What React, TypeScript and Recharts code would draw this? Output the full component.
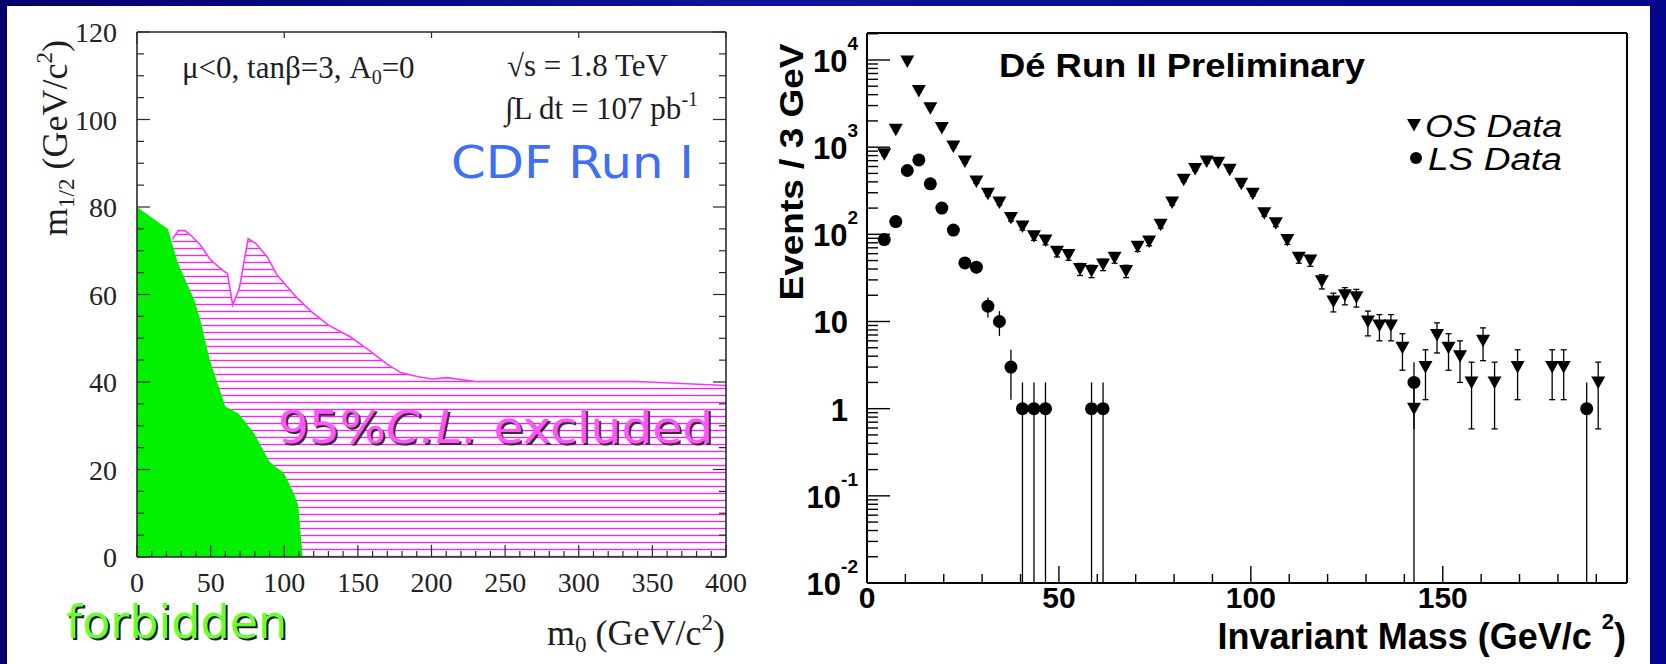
import React from 'react';
import {
  ComposedChart,
  Area,
  XAxis,
  YAxis,
  ScatterChart,
  Scatter,
  ErrorBar,
} from 'recharts';

// ─── Fonts / colours ──────────────────────────────────────
const SERIF = '"Liberation Serif", "Times New Roman", serif';
const SANS = '"Liberation Sans", Arial, Helvetica, sans-serif';
const VERDANA = '"DejaVu Sans", Verdana, sans-serif';
const FRAME_L = '#2a2a2a';
const INK = '#000';

// ─── Left panel: CDF Run I, (m0, m1/2) plane ──────────────
const FORBIDDEN_M0 = [0, 21, 27.5, 39, 43, 49.5, 60, 69, 79.5, 90, 100, 106.5, 109.5, 112.5];
const FORBIDDEN_M12 = [80, 75, 67.5, 58.7, 54.2, 45, 34.4, 32.8, 28.3, 21.8, 19.1, 14.6, 11.9, 0];

const LIMIT_M0 = [
  24, 28, 32.5, 36.5, 43, 50, 56.5, 61.5, 65, 69.5, 75.5, 80.5, 88.5, 95, 109,
  118.5, 130, 144.5, 157.5, 170.5, 179.5, 191, 200.5, 210.5, 217, 230, 339, 400,
];
const LIMIT_M12 = [
  72.6, 74.6, 74.6, 73.6, 71.3, 67.9, 66, 64.7, 57.6, 61.4, 72.8, 71.7, 68.6, 64.5, 59.1,
  56.1, 53, 50.4, 47.3, 43.9, 42.1, 41.2, 40.7, 41, 40.7, 40.1, 40.1, 39.2,
];

const M0_LABELS = [0, 50, 100, 150, 200, 250, 300, 350, 400];
const M12_LABELS = [0, 20, 40, 60, 80, 100, 120];

// ─── Right panel: DØ Run II invariant mass ────────────────
const OS_MASS = [
  4.5, 7.5, 10.5, 13.5, 16.5, 19.5, 22.5, 25.5, 28.5, 31.5, 34.5, 37.5, 40.5, 43.5, 46.5,
  49.5, 52.5, 55.5, 58.5, 61.5, 64.5, 67.5, 70.5, 73.5, 76.5, 79.5, 82.5, 85.5, 88.5, 91.5,
  94.5, 97.5, 100.5, 103.5, 106.5, 109.5, 112.5, 115.5, 118.5, 121.5, 124.5, 127.5, 130.5,
  133.5, 136.5, 139.5, 142.5, 145.5, 148.5, 151.5, 154.5, 157.5, 160.5, 163.5, 169.5,
  178.5, 181.5, 190.5,
];
const OS_EVENTS = [
  830, 1580, 9600, 4400, 2800, 1660, 1015, 684, 404, 292, 232, 154, 123, 95, 85,
  63, 58, 40, 38, 45, 54, 38, 72, 83, 129, 232, 422, 560, 684, 663,
  550, 380, 292, 175, 134, 86, 54, 50, 29, 17, 20, 19, 10,
  9, 9, 5, 1, 3, 7, 5, 4, 2, 6, 2, 3,
  3, 3, 2,
];

const LS_MASS = [
  4.5, 7.5, 10.5, 13.5, 16.5, 19.5, 22.5, 25.5, 28.5, 31.5, 34.5, 37.5, 40.5, 43.5, 46.5,
  58.5, 61.5, 142.5, 187.5,
];
const LS_EVENTS = [87, 140, 540, 713, 380, 200, 112, 47, 42, 15, 10, 3, 1, 1, 1, 1, 1, 2, 1];

const MASS_LABELS = [0, 50, 100, 150];
const DECADE_LABELS: Record<number, [string, string]> = {
  [-2]: ['10', '-2'],
  [-1]: ['10', '-1'],
  0: ['1', ''],
  1: ['10', ''],
  2: ['10', '2'],
  3: ['10', '3'],
  4: ['10', '4'],
};

const Y_MIN = 0.01;
const Y_MAX = 20400;
const MASS_MAX = 198;

// ─── Helpers ──────────────────────────────────────────────
function range(start: number, stop: number, step: number): number[] {
  const n = Math.round((stop - start) / step) + 1;
  return Array.from({ length: n }, (_, i) => start + i * step);
}

const M0_TICKS = range(0, 400, 10);
const M12_TICKS = range(0, 120, 5);
const MASS_TICKS = range(0, 190, 10);
const LOG_TICKS: number[] = [];
for (let e = -2; e <= 4; e++) {
  for (let m = 1; m <= 9; m++) {
    const v = Number((m * Math.pow(10, e)).toPrecision(6));
    if (v <= Y_MAX) LOG_TICKS.push(v);
  }
}

function buildLeftRows() {
  const rows = new Map<number, { m0: number; forb: number | null; excl: number | null }>();
  FORBIDDEN_M0.forEach((m0, i) => {
    rows.set(m0, { m0, forb: FORBIDDEN_M12[i], excl: null });
  });
  LIMIT_M0.forEach((m0, i) => {
    const r = rows.get(m0);
    if (r) r.excl = LIMIT_M12[i];
    else rows.set(m0, { m0, forb: null, excl: LIMIT_M12[i] });
  });
  return Array.from(rows.values()).sort((a, b) => a.m0 - b.m0);
}

// Poisson errors, lower edge clipped at the bottom of the log axis
function withErrors(mass: number[], events: number[]) {
  return mass.map((x, i) => {
    const y = events[i];
    const s = Math.sqrt(y);
    const low = Math.max(y - s, Y_MIN);
    return { x, y, err: [y - low, s] };
  });
}

const LEFT_ROWS = buildLeftRows();
const OS_POINTS = withErrors(OS_MASS, OS_EVENTS);
const LS_POINTS = withErrors(LS_MASS, LS_EVENTS);

// ─── Left panel ticks (ROOT style, inward) ────────────────
const LeftBottomTick = (p: any) => {
  const { x, y, payload } = p;
  const major = M0_LABELS.includes(payload.value);
  return (
    <g>
      <line x1={x} x2={x} y1={y} y2={y - (major ? 12 : 6)} stroke={FRAME_L} strokeWidth={1.2} />
      {major && (
        <text x={x} y={y + 35} textAnchor="middle" fontFamily={SERIF} fontSize={28} fill="#222">
          {payload.value}
        </text>
      )}
    </g>
  );
};

const LeftTopTick = (p: any) => {
  const { x, y, payload } = p;
  const major = M0_LABELS.includes(payload.value);
  return <line x1={x} x2={x} y1={y} y2={y + (major ? 12 : 6)} stroke={FRAME_L} strokeWidth={1.2} />;
};

const LeftYTick = (p: any) => {
  const { x, y, payload } = p;
  const major = M12_LABELS.includes(payload.value);
  return (
    <g>
      <line x1={x} x2={x + (major ? 13 : 7)} y1={y} y2={y} stroke={FRAME_L} strokeWidth={1.2} />
      {major && (
        <text x={x - 20} y={y + 10} textAnchor="end" fontFamily={SERIF} fontSize={28} fill="#222">
          {payload.value}
        </text>
      )}
    </g>
  );
};

const LeftRightTick = (p: any) => {
  const { x, y, payload } = p;
  const major = M12_LABELS.includes(payload.value);
  return <line x1={x} x2={x - (major ? 13 : 7)} y1={y} y2={y} stroke={FRAME_L} strokeWidth={1.2} />;
};

// ─── Right panel ticks ────────────────────────────────────
const MassTick = (p: any) => {
  const { x, y, payload } = p;
  const major = MASS_LABELS.includes(payload.value);
  return (
    <g>
      <line x1={x} x2={x} y1={y} y2={y - (major ? 17 : 9)} stroke={INK} strokeWidth={1.4} />
      {major && (
        <text x={x} y={y + 25} textAnchor="middle" fontFamily={SANS} fontWeight={700} fontSize={30} fill={INK}>
          {payload.value}
        </text>
      )}
    </g>
  );
};

const LogTick = (p: any) => {
  const { x, y, payload } = p;
  const e = Math.log10(payload.value);
  const major = Math.abs(e - Math.round(e)) < 1e-6;
  const lab = major ? DECADE_LABELS[Math.round(e)] : null;
  return (
    <g>
      <line x1={x} x2={x + (major ? 23 : 11)} y1={y} y2={y} stroke={INK} strokeWidth={1.4} />
      {lab && (
        <text
          x={lab[1] ? x - 9 : x - 19}
          y={y + 12}
          textAnchor="end"
          fontFamily={SANS}
          fontWeight={700}
          fontSize={31}
          fill={INK}
        >
          {lab[0]}
          {lab[1] && (
            <tspan fontSize={19} dy={-22}>
              {lab[1]}
            </tspan>
          )}
        </text>
      )}
    </g>
  );
};

// ─── Markers ──────────────────────────────────────────────
const TriangleDown = (p: any) => {
  const { cx, cy } = p;
  if (cx == null || cy == null) return <g />;
  return <polygon points={`${cx - 7},${cy - 6} ${cx + 7},${cy - 6} ${cx},${cy + 6.5}`} fill={INK} />;
};

const Dot = (p: any) => {
  const { cx, cy } = p;
  if (cx == null || cy == null) return <g />;
  return <circle cx={cx} cy={cy} r={6.5} fill={INK} />;
};

// ─── Panels ───────────────────────────────────────────────
// Axes get 1px of room (a zero-size axis is not drawn), so margins are 1px short.
function CdfPanel() {
  return (
    <ComposedChart
      width={770}
      height={664}
      data={LEFT_ROWS}
      margin={{ top: 31, right: 43, bottom: 106, left: 136 }}
    >
      <defs>
        <pattern id="cdfHatch" patternUnits="userSpaceOnUse" width={8} height={7}>
          <line x1={0} x2={8} y1={3.5} y2={3.5} stroke="#ff1aff" strokeWidth={1.3} />
        </pattern>
      </defs>
      <XAxis
        dataKey="m0"
        type="number"
        domain={[0, 400]}
        allowDataOverflow
        ticks={M0_TICKS}
        interval={0}
        height={1}
        tickSize={0}
        tickMargin={0}
        tickLine={false}
        tick={LeftBottomTick}
        axisLine={{ stroke: FRAME_L, strokeWidth: 1.6 }}
      />
      <XAxis
        xAxisId="top"
        orientation="top"
        type="number"
        domain={[0, 400]}
        allowDataOverflow
        ticks={M0_TICKS}
        interval={0}
        height={1}
        tickSize={0}
        tickMargin={0}
        tickLine={false}
        tick={LeftTopTick}
        axisLine={{ stroke: FRAME_L, strokeWidth: 1.6 }}
      />
      <YAxis
        type="number"
        domain={[0, 120]}
        allowDataOverflow
        ticks={M12_TICKS}
        interval={0}
        width={1}
        tickSize={0}
        tickMargin={0}
        tickLine={false}
        tick={LeftYTick}
        axisLine={{ stroke: FRAME_L, strokeWidth: 1.6 }}
      />
      <YAxis
        yAxisId="right"
        orientation="right"
        type="number"
        domain={[0, 120]}
        allowDataOverflow
        ticks={M12_TICKS}
        interval={0}
        width={1}
        tickSize={0}
        tickMargin={0}
        tickLine={false}
        tick={LeftRightTick}
        axisLine={{ stroke: FRAME_L, strokeWidth: 1.6 }}
      />
      <Area
        type="linear"
        dataKey="excl"
        connectNulls
        stroke="#ff33ff"
        strokeWidth={1.6}
        fill="url(#cdfHatch)"
        fillOpacity={1}
        dot={false}
        activeDot={false}
        isAnimationActive={false}
      />
      <Area
        type="linear"
        dataKey="forb"
        connectNulls
        stroke="none"
        fill="#00f000"
        fillOpacity={1}
        dot={false}
        activeDot={false}
        isAnimationActive={false}
      />
    </ComposedChart>
  );
}

function D0Panel() {
  return (
    <ScatterChart width={926} height={664} margin={{ top: 32, right: 38, bottom: 80, left: 126 }}>
      <XAxis
        dataKey="x"
        type="number"
        domain={[0, MASS_MAX]}
        allowDataOverflow
        ticks={MASS_TICKS}
        interval={0}
        height={1}
        tickSize={0}
        tickMargin={0}
        tickLine={false}
        tick={MassTick}
        axisLine={{ stroke: INK, strokeWidth: 2 }}
      />
      <XAxis
        xAxisId="top"
        orientation="top"
        type="number"
        domain={[0, MASS_MAX]}
        allowDataOverflow
        ticks={MASS_TICKS}
        height={1}
        tick={false}
        tickLine={false}
        axisLine={{ stroke: INK, strokeWidth: 2 }}
      />
      <YAxis
        dataKey="y"
        type="number"
        scale="log"
        domain={[Y_MIN, Y_MAX]}
        allowDataOverflow
        ticks={LOG_TICKS}
        interval={0}
        width={1}
        tickSize={0}
        tickMargin={0}
        tickLine={false}
        tick={LogTick}
        axisLine={{ stroke: INK, strokeWidth: 2 }}
      />
      <YAxis
        yAxisId="right"
        orientation="right"
        type="number"
        domain={[Y_MIN, Y_MAX]}
        allowDataOverflow
        ticks={[Y_MIN, Y_MAX]}
        width={1}
        tick={false}
        tickLine={false}
        axisLine={{ stroke: INK, strokeWidth: 2 }}
      />
      <Scatter data={LS_POINTS} shape={Dot} isAnimationActive={false}>
        <ErrorBar dataKey="err" direction="y" width={0} stroke={INK} strokeWidth={1.3} isAnimationActive={false} />
      </Scatter>
      <Scatter data={OS_POINTS} shape={TriangleDown} isAnimationActive={false}>
        <ErrorBar dataKey="err" direction="y" width={3} stroke={INK} strokeWidth={1.3} isAnimationActive={false} />
      </Scatter>
    </ScatterChart>
  );
}

// ─── Titles, labels, legend ───────────────────────────────
function Annotations() {
  return (
    <svg
      width={1666}
      height={664}
      style={{ position: 'absolute', left: 0, top: 0, pointerEvents: 'none' }}
    >
      {/* left panel */}
      <g fontFamily={SERIF} fill="#1e1e1e">
        <text x={182} y={78} fontSize={31}>
          μ&lt;0, tanβ=3, A<tspan fontSize={20} dy={6}>0</tspan>
          <tspan dy={-6}>=0</tspan>
        </text>
        <text x={507} y={76} fontSize={31}>√s = 1.8 TeV</text>
        <text x={505} y={119} fontSize={31}>
          ∫L dt = 107 pb<tspan fontSize={20} dy={-13}>-1</tspan>
        </text>
        <text transform="translate(67,138) rotate(-90)" textAnchor="middle" fontSize={36}>
          m<tspan fontSize={23} dy={7}>1/2</tspan>
          <tspan dy={-7}> (GeV/c</tspan>
          <tspan fontSize={23} dy={-15}>2</tspan>
          <tspan dy={15}>)</tspan>
        </text>
        <text x={725} y={645} textAnchor="end" fontSize={36}>
          m<tspan fontSize={23} dy={7}>0</tspan>
          <tspan dy={-7}> (GeV/c</tspan>
          <tspan fontSize={23} dy={-15}>2</tspan>
          <tspan dy={15}>)</tspan>
        </text>
      </g>
      <text x={451} y={178} fontFamily={VERDANA} fontSize={45} fill="#3f6ff2" textLength={243} lengthAdjust="spacingAndGlyphs">
        CDF Run I
      </text>
      <g fontFamily={VERDANA} fontSize={44}>
        <text x={280} y={445} fill="#3a2a3a" textLength={435} lengthAdjust="spacingAndGlyphs">
          95%<tspan fontStyle="italic">C.L.</tspan> excluded
        </text>
        <text x={278} y={443} fill="#ff55ff" textLength={435} lengthAdjust="spacingAndGlyphs">
          95%<tspan fontStyle="italic">C.L.</tspan> excluded
        </text>
      </g>
      <g fontFamily={VERDANA} fontSize={46}>
        <text x={68} y={640} fill="#1a1a1a">forbidden</text>
        <text x={66} y={638} fill="#66ff33">forbidden</text>
      </g>

      {/* right panel */}
      <g fontFamily={SANS} fill={INK}>
        <text x={999} y={77} fontSize={34} fontWeight={700} textLength={366} lengthAdjust="spacingAndGlyphs">
          Dé Run II Preliminary
        </text>
        <text
          transform="translate(803,172) rotate(-90)"
          textAnchor="middle"
          fontSize={34}
          fontWeight={700}
          textLength={257}
          lengthAdjust="spacingAndGlyphs"
        >
          Events / 3 GeV
        </text>
        <text x={1626} y={649} textAnchor="end" fontSize={36} fontWeight={700}>
          Invariant Mass (GeV/c <tspan fontSize={22} dy={-20}>2</tspan>
          <tspan dy={20}>)</tspan>
        </text>
        <polygon points="1407,119 1421,119 1414,131.5" fill={INK} />
        <text x={1425} y={137} fontSize={31} fontStyle="italic" textLength={137} lengthAdjust="spacingAndGlyphs">OS Data</text>
        <circle cx={1416} cy={158} r={6} fill={INK} />
        <text x={1428} y={170} fontSize={31} fontStyle="italic" textLength={134} lengthAdjust="spacingAndGlyphs">LS Data</text>
      </g>
    </svg>
  );
}

export default function App() {
  return (
    <div
      style={{
        position: 'absolute',
        left: 0,
        top: 0,
        width: 1666,
        height: 664,
        overflow: 'hidden',
        background: 'linear-gradient(90deg, #00006c 0%, #12129a 45%, #06068a 100%)',
      }}
    >
      <div style={{ position: 'absolute', left: 7, top: 6, width: 1643, height: 658, background: '#fff' }} />
      <div style={{ position: 'absolute', left: 0, top: 0 }}>
        <CdfPanel />
      </div>
      <div style={{ position: 'absolute', left: 740, top: 0 }}>
        <D0Panel />
      </div>
      <Annotations />
    </div>
  );
}
